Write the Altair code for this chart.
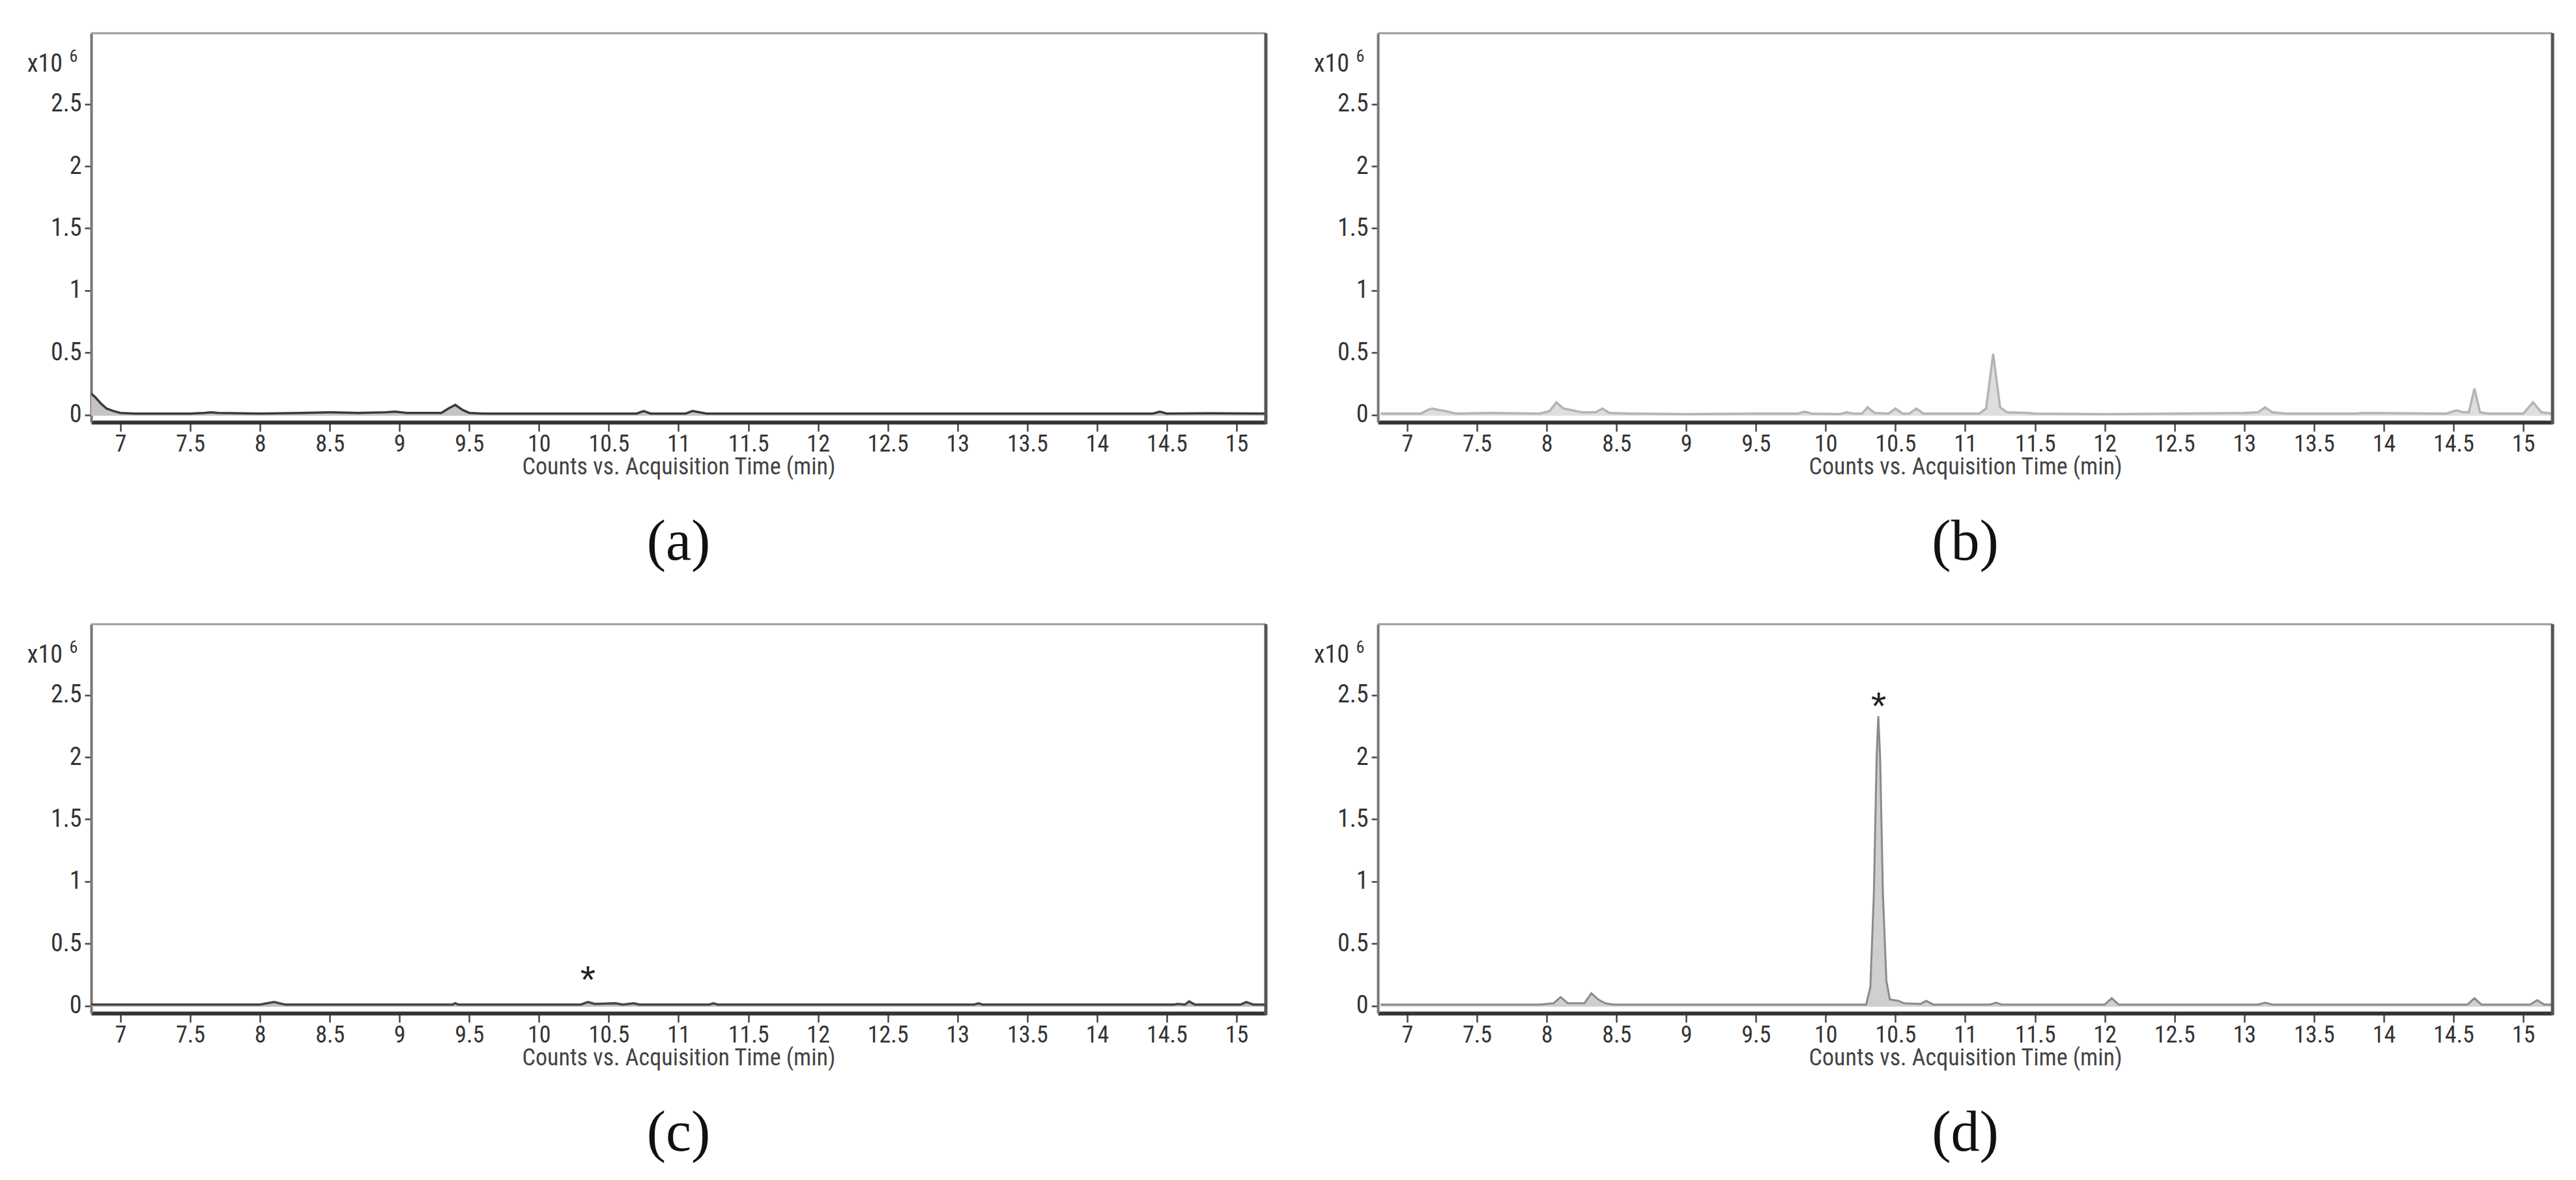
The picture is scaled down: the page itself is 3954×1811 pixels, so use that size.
import altair as alt
import pandas as pd

# ---------------- data (times in min, intensities in 10^6 counts) ----------------
t_a = [6.79, 6.82, 6.86, 6.90, 6.95, 7.00, 7.10, 7.50, 7.60, 7.65, 7.70, 8.00, 8.30, 8.50, 8.70,
       8.90, 8.97, 9.05, 9.30, 9.35, 9.40, 9.45, 9.50, 9.60, 10.00, 10.50, 10.70, 10.75, 10.80,
       11.05, 11.10, 11.15, 11.20, 11.50, 12.00, 12.50, 13.00, 13.50, 14.00, 14.40, 14.45, 14.50,
       14.80, 15.21]
v_a = [0.17, 0.14, 0.09, 0.05, 0.03, 0.015, 0.01, 0.01, 0.015, 0.02, 0.015, 0.01, 0.015, 0.02, 0.015,
       0.02, 0.025, 0.015, 0.015, 0.05, 0.08, 0.04, 0.015, 0.01, 0.01, 0.01, 0.01, 0.03, 0.01,
       0.01, 0.03, 0.02, 0.01, 0.01, 0.01, 0.01, 0.01, 0.01, 0.01, 0.01, 0.025, 0.01,
       0.012, 0.01]

t_b = [6.81, 7.10, 7.15, 7.18, 7.22, 7.27, 7.35, 7.60, 7.95, 8.02, 8.07, 8.12, 8.17, 8.25, 8.35,
       8.40, 8.45, 8.60, 9.00, 9.50, 9.80, 9.85, 9.90, 10.10, 10.15, 10.20, 10.26, 10.30, 10.35,
       10.45, 10.50, 10.55, 10.60, 10.65, 10.70, 11.10, 11.15, 11.20, 11.25, 11.30, 11.45, 11.50,
       12.00, 12.50, 13.00, 13.10, 13.15, 13.20, 13.30, 13.80, 13.85, 14.45, 14.52, 14.57, 14.61,
       14.65, 14.69, 14.75, 15.00, 15.07, 15.13, 15.21]
v_b = [0.01, 0.01, 0.04, 0.05, 0.04, 0.03, 0.01, 0.015, 0.01, 0.03, 0.10, 0.05, 0.04, 0.02, 0.02,
       0.05, 0.015, 0.01, 0.005, 0.01, 0.01, 0.025, 0.01, 0.005, 0.02, 0.01, 0.01, 0.06, 0.015,
       0.01, 0.05, 0.01, 0.01, 0.05, 0.01, 0.01, 0.05, 0.49, 0.06, 0.02, 0.015, 0.01,
       0.005, 0.01, 0.015, 0.02, 0.06, 0.02, 0.01, 0.01, 0.015, 0.01, 0.035, 0.02, 0.02,
       0.21, 0.02, 0.01, 0.01, 0.10, 0.02, 0.01]

t_c = [6.79, 8.00, 8.05, 8.10, 8.18, 9.38, 9.40, 9.42, 10.30, 10.35, 10.40, 10.55, 10.60, 10.68,
       10.72, 11.22, 11.25, 11.28, 13.12, 13.15, 13.18, 14.55, 14.58, 14.63, 14.66, 14.70, 15.03,
       15.07, 15.12, 15.21]
v_c = [0.01, 0.01, 0.02, 0.03, 0.01, 0.01, 0.02, 0.01, 0.01, 0.03, 0.015, 0.02, 0.01, 0.02,
       0.01, 0.01, 0.02, 0.01, 0.01, 0.02, 0.01, 0.01, 0.015, 0.01, 0.035, 0.01, 0.01,
       0.03, 0.01, 0.01]

t_d = [6.81, 7.95, 8.05, 8.10, 8.15, 8.27, 8.32, 8.37, 8.42, 8.48, 10.29, 10.32, 10.345, 10.365,
       10.377, 10.39, 10.41, 10.435, 10.46, 10.52, 10.56, 10.68, 10.72, 10.77, 11.18, 11.22, 11.26,
       12.00, 12.05, 12.10, 13.10, 13.15, 13.20, 14.60, 14.65, 14.70, 15.05, 15.10, 15.15, 15.21]
v_d = [0.01, 0.01, 0.02, 0.07, 0.02, 0.02, 0.10, 0.05, 0.02, 0.01, 0.01, 0.15, 0.9, 2.0,
       2.33, 2.0, 0.9, 0.2, 0.05, 0.04, 0.02, 0.015, 0.04, 0.01, 0.01, 0.025, 0.01,
       0.01, 0.06, 0.01, 0.01, 0.025, 0.01, 0.01, 0.06, 0.01, 0.01, 0.045, 0.01, 0.01]

star_c_t, star_c_v = [10.35], [0.27]
star_d_t, star_d_v = [10.38], [2.47]

x_ticks = [7, 7.5, 8, 8.5, 9, 9.5, 10, 10.5, 11, 11.5, 12, 12.5, 13, 13.5, 14, 14.5, 15]
y_ticks = [0, 0.5, 1, 1.5, 2, 2.5]
x_title = "Counts vs. Acquisition Time (min)"
panel_labels = ["(a)", "(b)", "(c)", "(d)"]

# ---------------- layout constants ----------------
W, H = 1803, 597
X_DOM = [6.79, 15.21]
Y_DOM = [-0.06, 3.07]
NARROW = "Liberation Sans Narrow, Roboto Condensed, DejaVu Sans Condensed, Arial Narrow, Liberation Sans, sans-serif"

one = pd.DataFrame({"k": [0]})


def panel(t, v, fill, stroke, lw, label, star=None):
    df = pd.DataFrame({"t": t, "v": v})
    x = alt.X("t:Q", scale=alt.Scale(domain=X_DOM, nice=False, zero=False),
              axis=alt.Axis(values=x_ticks, format=".3~g", title=x_title))
    y = alt.Y("v:Q", scale=alt.Scale(domain=Y_DOM, nice=False, zero=False),
              axis=alt.Axis(values=y_ticks, format=".2~g", title=None))
    area = alt.Chart(df).mark_area(
        color=fill, opacity=1, clip=True,
        line={"color": stroke, "strokeWidth": lw},
    ).encode(x=x, y=y, y2=alt.datum(-0.008))
    top = alt.Chart(one).mark_rule(color="#9a9a9a", strokeWidth=3).encode(
        x=alt.value(0), x2=alt.value(W), y=alt.value(0))
    right = alt.Chart(one).mark_rule(color="#555555", strokeWidth=5).encode(
        x=alt.value(W), y=alt.value(0), y2=alt.value(H + 3))
    x10 = alt.Chart(one).mark_text(text="x10", align="right", baseline="middle", fontSize=38,
                                   font=NARROW, color="#333333").encode(
        x=alt.value(-44), y=alt.value(48))
    six = alt.Chart(one).mark_text(text="6", align="center", baseline="middle", fontSize=26,
                                   font=NARROW, color="#333333").encode(
        x=alt.value(-27), y=alt.value(36))
    layers = [area, top, right, x10, six]
    if star is not None:
        sdf = pd.DataFrame({"t": star[0], "v": star[1]})
        layers.append(alt.Chart(sdf).mark_text(text="*", fontSize=60, font="Liberation Sans",
                                               color="#222222", baseline="middle", dy=14).encode(
            x=alt.X("t:Q", scale=alt.Scale(domain=X_DOM, nice=False, zero=False)),
            y=alt.Y("v:Q", scale=alt.Scale(domain=Y_DOM, nice=False, zero=False))))
    return alt.layer(*layers).properties(
        width=W, height=H,
        title=alt.TitleParams(label, orient="bottom", anchor="middle", fontSize=88,
                              font="Liberation Serif", fontWeight="normal", color="#111111",
                              offset=55),
    )


pa = panel(t_a, v_a, "#c4c4c4", "#3a3a3a", 3.5, panel_labels[0])
pb = panel(t_b, v_b, "#dedede", "#b4b4b4", 3.5, panel_labels[1])
pc = panel(t_c, v_c, "#bdbdbd", "#454545", 3.5, panel_labels[2], star=(star_c_t, star_c_v))
pd_ = panel(t_d, v_d, "#cfcfcf", "#8a8a8a", 3.0, panel_labels[3], star=(star_d_t, star_d_v))

row1 = alt.hconcat(pa, pb, spacing=70)
row2 = alt.hconcat(pc, pd_, spacing=70)

chart = alt.vconcat(row1, row2, spacing=78).properties(
    padding={"left": 33, "top": 40, "right": 5, "bottom": 5}
).configure_view(stroke=None).configure_axisX(
    domainColor="#333333", domainWidth=6, tickColor="#444444", tickWidth=2.5, tickSize=14,
    labelPadding=2, labelFontSize=36, labelFont=NARROW, labelColor="#333333",
    titleFont=NARROW, titleFontSize=36, titleFontWeight="normal", titleColor="#444444",
    titlePadding=0, grid=False,
).configure_axisY(
    domainColor="#777777", domainWidth=4, tickColor="#444444", tickWidth=2.5, tickSize=10,
    labelPadding=5, labelFontSize=38, labelFont=NARROW, labelColor="#333333", grid=False,
)

chart.save("out.html", embed_options={"renderer": "svg", "actions": False})
